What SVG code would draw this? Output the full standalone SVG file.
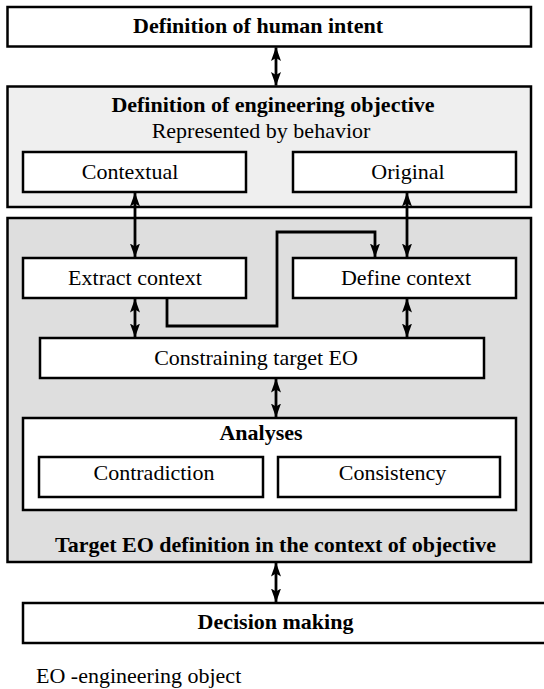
<svg xmlns="http://www.w3.org/2000/svg" width="544" height="689" viewBox="0 0 544 689">
<style>
  .box { fill: #ffffff; stroke: #000000; stroke-width: 2.5; }
  .grp1 { fill: #efefef; stroke: #000000; stroke-width: 2.5; }
  .grp2 { fill: #dedede; stroke: #000000; stroke-width: 2.5; }
  text { font-family: "Liberation Serif", "Times New Roman", serif; font-size: 22px; fill: #000; }
  .b { font-weight: bold; }
  .c { text-anchor: middle; }
  .con { fill: none; stroke: #000; stroke-width: 2.8; }
  .dbl { marker-start: url(#ah); marker-end: url(#ah); }
  .one { marker-end: url(#ah); }
</style>
<defs>
  <marker id="ah" viewBox="0 0 14 10" refX="13.5" refY="5" markerWidth="14" markerHeight="10" markerUnits="userSpaceOnUse" orient="auto-start-reverse">
    <path d="M0,0 L14,5 L0,10 L3,5 z" fill="#000"/>
  </marker>
</defs>
<rect width="544" height="689" fill="#ffffff"/>

<g id="human-intent">
  <rect class="box" x="7.5" y="7" width="523.5" height="39.5"/>
  <text class="b c" x="258" y="33">Definition of human intent</text>
</g>

<g id="engineering-objective">
  <rect class="grp1" x="7.5" y="86.5" width="523.5" height="120.5"/>
  <text class="b c" x="273" y="112">Definition of engineering objective</text>
  <text class="c" x="261" y="138">Represented by behavior</text>
</g>
<g id="contextual">
  <rect class="box" x="23" y="152" width="223" height="40"/>
  <text class="c" x="130" y="179">Contextual</text>
</g>
<g id="original">
  <rect class="box" x="293" y="152" width="223" height="40"/>
  <text class="c" x="408" y="179">Original</text>
</g>

<g id="target-eo">
  <rect class="grp2" x="7.5" y="218" width="523.5" height="344"/>
  <text class="b c" x="275.5" y="552">Target EO definition in the context of objective</text>
</g>
<g id="extract-context">
  <rect class="box" x="23" y="258" width="223" height="40"/>
  <text class="c" x="135" y="285">Extract context</text>
</g>
<g id="define-context">
  <rect class="box" x="293" y="258" width="223" height="40"/>
  <text class="c" x="406" y="285">Define context</text>
</g>
<g id="constraining">
  <rect class="box" x="40" y="338" width="444" height="40"/>
  <text class="c" x="256" y="365">Constraining target EO</text>
</g>
<g id="analyses">
  <rect class="box" x="23" y="418" width="493" height="92"/>
  <text class="b c" x="261" y="440">Analyses</text>
</g>
<g id="contradiction">
  <rect class="box" x="39" y="457" width="224" height="40"/>
  <text class="c" x="154" y="480">Contradiction</text>
</g>
<g id="consistency">
  <rect class="box" x="278" y="457" width="222" height="40"/>
  <text class="c" x="392.5" y="480">Consistency</text>
</g>

<g id="decision-making">
  <rect class="box" x="23" y="603" width="530" height="40"/>
  <text class="b c" x="275.5" y="629">Decision making</text>
</g>

<g id="legend">
  <text x="36" y="683">EO -engineering object</text>
</g>

<g id="connectors">
  <line class="con dbl" x1="276" y1="47.5" x2="276" y2="85.5"/>
  <line class="con dbl" x1="135" y1="193" x2="135" y2="257"/>
  <line class="con dbl" x1="407" y1="193" x2="407" y2="257"/>
  <path class="con one" d="M167,299 V326 H277 V232 H375 V257"/>
  <line class="con dbl" x1="135" y1="299" x2="135" y2="337"/>
  <line class="con dbl" x1="407" y1="299" x2="407" y2="337"/>
  <line class="con dbl" x1="276" y1="379" x2="276" y2="417"/>
  <line class="con dbl" x1="276" y1="563" x2="276" y2="602"/>
</g>
</svg>
